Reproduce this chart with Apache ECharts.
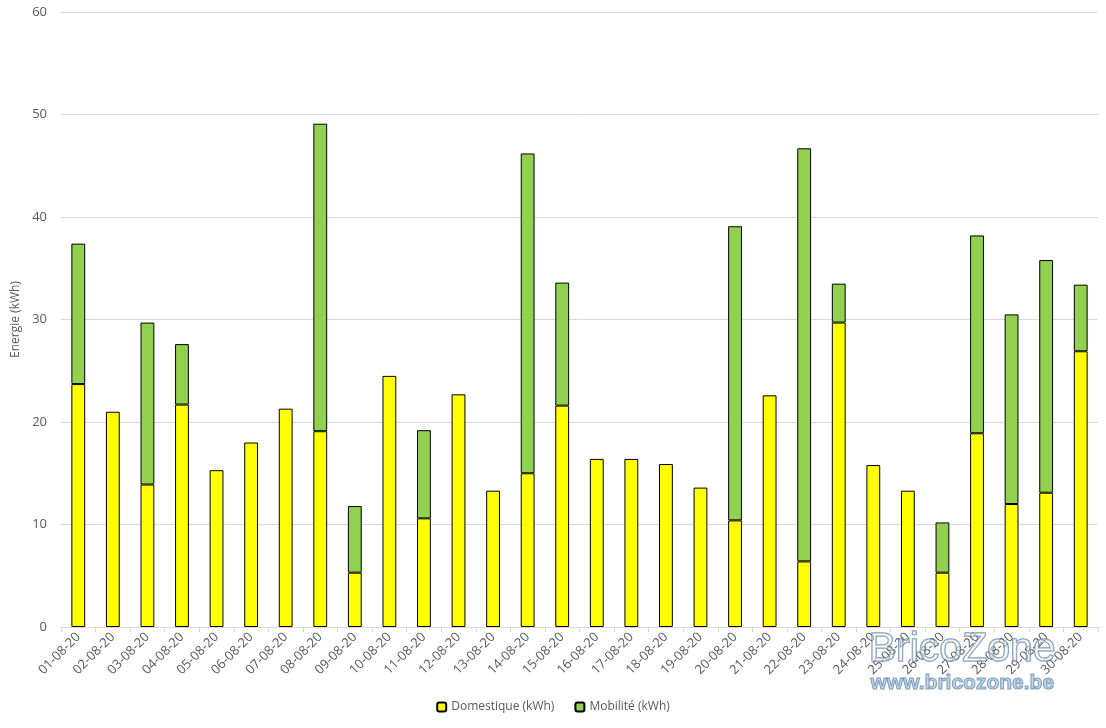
<!DOCTYPE html>
<html>
<head>
<meta charset="utf-8">
<script src="https://cdn.jsdelivr.net/npm/echarts@6/dist/echarts.min.js"></script>
<style>
  html, body { margin: 0; padding: 0; background: #fff; }
  #chart { width: 1106px; height: 728px; }
</style>
</head>
<body>
<div id="chart"></div>
<script>
const days = ['01-08-20','02-08-20','03-08-20','04-08-20','05-08-20','06-08-20','07-08-20','08-08-20','09-08-20','10-08-20',
  '11-08-20','12-08-20','13-08-20','14-08-20','15-08-20','16-08-20','17-08-20','18-08-20','19-08-20','20-08-20',
  '21-08-20','22-08-20','23-08-20','24-08-20','25-08-20','26-08-20','27-08-20','28-08-20','29-08-20','30-08-20']
// Domestique (kWh)
const domestique = [23.7, 21.0, 13.9, 21.7, 15.3, 18.0, 21.3, 19.1, 5.3, 24.5,
  10.6, 22.7, 13.3, 15.0, 21.6, 16.4, 16.4, 15.9, 13.6, 10.4,
  22.6, 6.4, 29.7, 15.8, 13.3, 5.3, 18.9, 12.0, 13.1, 26.9]
// Mobilité (kWh) - null = pas de recharge ce jour-là
const mobilite = [13.7, null, 15.8, 5.9, null, null, null, 30.0, 6.5, null,
  8.6, null, null, 31.2, 12.0, null, null, null, null, 28.7,
  null, 40.3, 3.8, null, null, 4.9, 19.3, 18.5, 22.7, 6.5]

const myChart = echarts.init(document.getElementById('chart'))

const txt = '#595959'
const option = {
  backgroundColor: '#fff',
  animation: false,
  textStyle: { fontFamily: 'Open Sans, sans-serif' },
  grid: { left: 61, right: 8, top: 12, bottom: 101 },
  legend: {
    bottom: 10,
    left: 'center',
    itemWidth: 9,
    itemHeight: 9,
    itemGap: 20,
    textStyle: { color: txt, fontSize: 12 },
    data: ['Domestique (kWh)', 'Mobilité (kWh)']
  },
  xAxis: {
    type: 'category',
    data: days,
    axisLine: { lineStyle: { color: '#d9d9d9' } },
    axisTick: { show: true, alignWithLabel: false, length: 5, lineStyle: { color: '#d9d9d9' } },
    axisLabel: { rotate: 45, interval: 0, color: txt, fontSize: 13, margin: 8 }
  },
  yAxis: {
    type: 'value',
    min: 0,
    max: 60,
    interval: 10,
    name: 'Energie (kWh)',
    nameLocation: 'middle',
    nameGap: 32,
    nameTextStyle: { color: txt, fontSize: 12 },
    axisLine: { show: false },
    axisTick: { show: false },
    axisLabel: { color: txt, fontSize: 13, margin: 14 },
    splitLine: { lineStyle: { color: '#d9d9d9' } }
  },
  series: [
    {
      name: 'Domestique (kWh)',
      type: 'bar',
      stack: 'total',
      barWidth: '40%',
      data: domestique,
      itemStyle: { color: '#ffff00', borderColor: '#000', borderWidth: 1 }
    },
    {
      name: 'Mobilité (kWh)',
      type: 'bar',
      stack: 'total',
      barWidth: '40%',
      data: mobilite,
      itemStyle: { color: '#92d050', borderColor: '#000', borderWidth: 1 }
    }
  ],
  graphic: [
    {
      type: 'text', left: 868, top: 628, z: 100, silent: true,
      style: { text: 'BricoZone', font: '41px "Liberation Sans", sans-serif', fill: 'rgba(255,255,255,0.4)', stroke: 'rgba(70,110,150,0.7)', lineWidth: 1.5 }
    },
    {
      type: 'text', left: 870, top: 672, z: 100, silent: true,
      style: { text: 'www.bricozone.be', font: 'bold 21px "Liberation Sans", sans-serif', fill: 'rgba(120,160,200,0.45)', stroke: 'rgba(70,110,150,0.7)', lineWidth: 1 }
    }
  ]
}

myChart.setOption(option, true)
</script>
</body>
</html>
